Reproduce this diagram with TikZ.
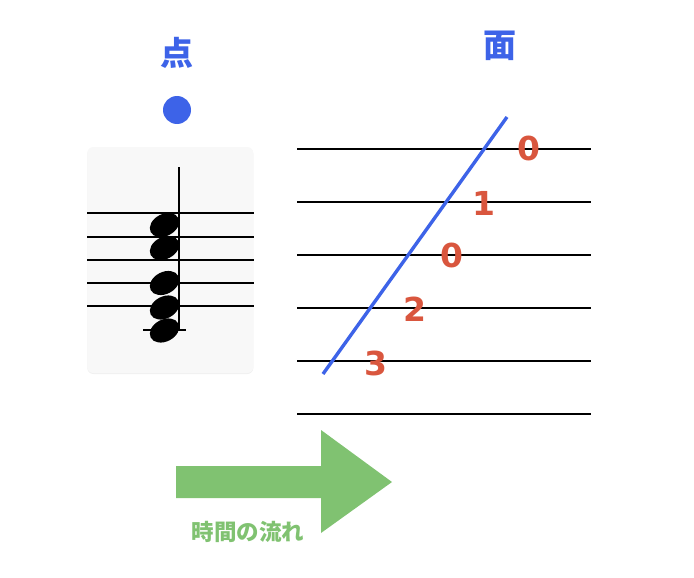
\documentclass[tikz,border=0pt]{standalone}
\usepackage{fontspec}
\setmainfont{Liberation Sans}
\newfontfamily\jpfont{Noto Sans CJK JP}
\newfontfamily\fretfont{DejaVu Sans}
\usetikzlibrary{shadows}
\definecolor{pointblue}{RGB}{61,99,232}
\definecolor{fretred}{RGB}{217,86,62}
\definecolor{flowgreen}{RGB}{128,194,113}
\definecolor{cardgray}{RGB}{248,248,248}

\begin{document}
\begin{tikzpicture}[x=1pt,y=-1pt]
    %
    % `title' is used for the two headings, `fret' for the tab numbers.
    % `staffline' and `tabline' are the lines of the two staves.
    \tikzstyle{title} = [text=pointblue,inner sep=0pt,font=\jpfont\bfseries\fontsize{33}{33}\selectfont]
    \tikzstyle{fret} = [text=fretred,inner sep=0pt,font=\fretfont\bfseries\fontsize{33}{33}\selectfont]
    \tikzstyle{card} = [fill=cardgray,rounded corners=6pt,drop shadow={opacity=0.12,shadow xshift=0pt,shadow yshift=-1pt}]
    \tikzstyle{staffline} = [line width=1.7pt]
    \tikzstyle{tabline} = [line width=1.5pt]
    \tikzstyle{flowtext} = [text=flowgreen,inner sep=0pt,font=\jpfont\bfseries\fontsize{22.5}{22.5}\selectfont]
    \useasboundingbox (0,0) rectangle (694,578);
    %
    % Headings
    \node[title] (ten) at (177,53) {点};
    \node[title] (men) at (500,46) {面};
    \node[fill=pointblue,circle,minimum size=28pt,inner sep=0pt] (dot) at (177,110) {};
    %
    % Chord card
    \node[card,minimum width=166pt,minimum height=226pt] (card) at (170.3,260) {};
    \foreach \y in {213,237,260,283,306}
        \draw[staffline] (card.west |- 0,\y) -- (card.east |- 0,\y);
    \draw[staffline] (143,330) -- (186,330);
    \draw[line width=2pt] (179,167) -- (179,331);
    \foreach \y in {225,248,283,307.5,330.5}
        \fill (164.5,\y) ellipse [x radius=15.5pt,y radius=11pt,rotate=27];
    %
    % Tab staff
    \foreach \y in {149,202,255,308,361,414}
        \draw[tabline] (297,\y) -- (591,\y);
    \coordinate (low) at (323,374);
    \coordinate (high) at (507,117);
    \draw[pointblue,line width=3.4pt] (low) -- (high);
    %
    % Frets
    \node[fret] (f1) at (529,148) {0};
    \node[fret] (f2) at (484,203) {1};
    \node[fret] (f3) at (452,255) {0};
    \node[fret] (f4) at (415,309) {2};
    \node[fret] (f5) at (375.5,363) {3};
    %
    % Time arrow
    \fill[flowgreen] (176,466) -- (321,466) -- (321,430) -- (392,482)
        -- (321,533) -- (321,498) -- (176,498) -- cycle;
    \node[flowtext] (flow) at (248,532) {時間の流れ};
    %
\end{tikzpicture}
\end{document}
